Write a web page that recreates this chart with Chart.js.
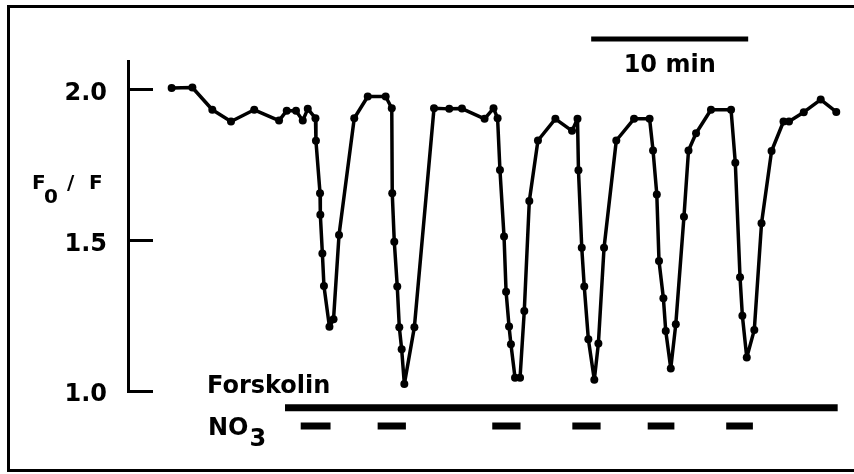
<!DOCTYPE html>
<html>
<head>
<meta charset="utf-8">
<title>F0/F trace</title>
<script src="https://cdn.jsdelivr.net/npm/chart.js@4/dist/chart.umd.min.js"></script>
<style>
  html, body { margin: 0; padding: 0; background: #fff; }
  canvas { display: block; }
</style>
</head>
<body>
<canvas id="myChart" width="854" height="474"></canvas>
<script>
// time in minutes (10 min = scale bar)
const timeMin = [2.78, 4.10, 5.37, 6.56, 8.04, 9.62, 10.11, 10.70, 11.13, 11.45,
    11.94, 11.97, 12.23, 12.25, 12.38, 12.48, 12.83, 13.09, 13.44, 14.41,
    15.27, 16.41, 16.80, 16.83, 16.96, 17.15, 17.28, 17.43, 17.60, 18.24,
    19.49, 20.46, 21.27, 22.71, 23.28, 23.54, 23.69, 23.95, 24.08, 24.27,
    24.39, 24.65, 24.97, 25.24, 25.56, 26.11, 27.22, 28.28, 28.63, 28.69,
    28.90, 29.06, 29.32, 29.70, 29.96, 30.32, 31.10, 32.23, 33.22, 33.44,
    33.68, 33.82, 34.10, 34.25, 34.57, 34.89, 35.41, 35.70, 36.18, 37.13,
    38.41, 38.68, 38.98, 39.13, 39.41, 39.89, 40.35, 40.99, 41.75, 42.10,
    43.04, 44.12, 45.11];
const ratio = [2.006, 2.008, 1.934, 1.895, 1.934, 1.898, 1.931, 1.931, 1.898, 1.937,
    1.906, 1.831, 1.657, 1.585, 1.457, 1.349, 1.213, 1.238, 1.518, 1.906,
    1.978, 1.978, 1.939, 1.657, 1.496, 1.347, 1.212, 1.139, 1.023, 1.212,
    1.939, 1.937, 1.938, 1.904, 1.939, 1.906, 1.734, 1.513, 1.330, 1.214,
    1.155, 1.044, 1.044, 1.266, 1.631, 1.832, 1.904, 1.864, 1.904, 1.733,
    1.476, 1.347, 1.172, 1.037, 1.158, 1.476, 1.832, 1.904, 1.904, 1.799,
    1.653, 1.432, 1.308, 1.199, 1.075, 1.222, 1.579, 1.799, 1.856, 1.934,
    1.934, 1.758, 1.378, 1.250, 1.111, 1.203, 1.557, 1.797, 1.895, 1.895,
    1.926, 1.968, 1.927];

const yTicks = [1.0, 1.5, 2.0];

// bars drawn under / over the trace (minutes)
const scaleBarMin = [29.5, 39.5];
const forskolinMin = [10.0, 45.2];
const no3Start = [11.0, 15.9, 23.2, 28.3, 33.1, 38.1];
const no3End = [12.9, 17.7, 25.0, 30.1, 34.8, 39.8];

// levels (in F0/F units) where the bars sit, outside the axis range
const scaleBarLevel = 2.169;
const forskolinLevel = 0.944;
const no3Level = 0.884;

const FONT = 'DejaVu Sans';

const tracePts = timeMin.map((t, i) => ({x: t, y: ratio[i]}));
const scalePts = scaleBarMin.map(t => ({x: t, y: scaleBarLevel}));
const forskPts = forskolinMin.map(t => ({x: t, y: forskolinLevel}));
const no3Pts = [];
no3Start.forEach((s, i) => {
    no3Pts.push({x: s, y: no3Level}, {x: no3End[i], y: no3Level}, {x: no3End[i], y: null});
});

// white page + frame round the figure
const framePlugin = {
    id: 'frame',
    beforeDraw(chart) {
        const c = chart.ctx;
        c.save();
        c.fillStyle = '#fff';
        c.fillRect(0, 0, chart.width, chart.height);
        c.strokeStyle = '#000';
        c.lineWidth = 3;
        c.beginPath();
        c.moveTo(854, 6.5);
        c.lineTo(8.5, 6.5);
        c.lineTo(8.5, 470.5);
        c.lineTo(854, 470.5);
        c.stroke();
        c.restore();
    }
};

// text labels: axis title, scale bar, treatments
const labelPlugin = {
    id: 'labels',
    afterDraw(chart) {
        const c = chart.ctx;
        const x = chart.scales.x;
        c.save();
        c.fillStyle = '#000';
        c.textBaseline = 'alphabetic';

        c.font = 'bold 24px ' + FONT;
        c.textAlign = 'center';
        const mid = (x.getPixelForValue(scaleBarMin[0]) + x.getPixelForValue(scaleBarMin[1])) / 2;
        c.fillText('10 min', mid, 72);

        c.textAlign = 'left';
        c.fillText('Forskolin', 207, 393);
        c.fillText('NO', 208, 435);
        const noW = c.measureText('NO').width;
        c.fillText('3', 208 + noW + 1, 446);

        c.font = 'bold 20px ' + FONT;
        c.fillText('F', 32, 189);
        c.fillText('0', 44, 203);
        c.fillText('/', 67, 189);
        c.fillText('F', 89, 189);
        c.restore();
    }
};

const ctx = document.getElementById('myChart').getContext('2d');
const myChart = new Chart(ctx, {
    type: 'line',
    data: {
        datasets: [{
            label: 'F0/F',
            data: tracePts,
            borderColor: '#000',
            borderWidth: 3.5,
            borderJoinStyle: 'round',
            pointRadius: 4,
            pointBorderWidth: 0,
            pointBackgroundColor: '#000',
            tension: 0,
            clip: false
        }, {
            label: '10 min',
            data: scalePts,
            borderColor: '#000',
            borderWidth: 5,
            pointRadius: 0,
            borderCapStyle: 'butt',
            clip: false
        }, {
            label: 'Forskolin',
            data: forskPts,
            borderColor: '#000',
            borderWidth: 7,
            pointRadius: 0,
            borderCapStyle: 'butt',
            clip: false
        }, {
            label: 'NO3',
            data: no3Pts,
            borderColor: '#000',
            borderWidth: 7,
            pointRadius: 0,
            borderCapStyle: 'butt',
            spanGaps: false,
            clip: false
        }]
    },
    options: {
        responsive: false,
        animation: false,
        layout: {padding: {top: 61, bottom: 83, left: 0, right: 8}},
        plugins: {
            legend: {display: false},
            tooltip: {enabled: false}
        },
        scales: {
            x: {
                type: 'linear',
                display: false,
                min: 0,
                max: 45.73
            },
            y: {
                type: 'linear',
                min: 1.0,
                max: 2.096,
                afterBuildTicks: (scale) => {
                    scale.ticks = yTicks.map(v => ({value: v}));
                },
                afterFit: (scale) => {
                    scale.width = 128;
                },
                border: {display: true, color: '#000', width: 3},
                grid: {
                    drawOnChartArea: false,
                    drawTicks: true,
                    tickLength: -25,
                    tickWidth: 3,
                    tickColor: '#000'
                },
                ticks: {
                    color: '#000',
                    padding: 46,
                    labelOffset: 4,
                    font: {family: FONT, size: 24, weight: 'bold'},
                    callback: (v) => Number(v).toFixed(1)
                }
            }
        }
    },
    plugins: [framePlugin, labelPlugin]
});
</script>
</body>
</html>
